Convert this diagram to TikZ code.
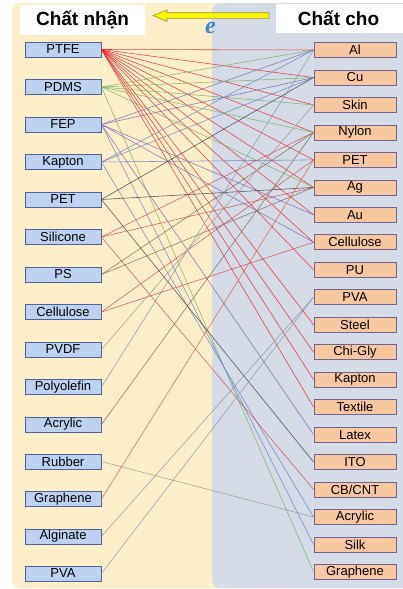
\documentclass[tikz,border=0pt]{standalone}
\usepackage{fontspec}
\setmainfont{Liberation Sans}
\newfontfamily\eserif{Liberation Serif}

\definecolor{panelA}{RGB}{252,238,201}
\definecolor{panelD}{RGB}{213,219,231}
\definecolor{boxA}{RGB}{189,210,240}
\definecolor{boxD}{RGB}{247,199,160}
\definecolor{edgeA}{RGB}{78,98,158}
\definecolor{edgeD}{RGB}{112,100,150}
\definecolor{cRed}{RGB}{232,32,36}
\definecolor{cRose}{RGB}{205,70,70}
\definecolor{cGreen}{RGB}{110,178,92}
\definecolor{cPurple}{RGB}{118,98,178}
\definecolor{cBlue}{RGB}{98,128,192}
\definecolor{cDark}{RGB}{55,58,60}
\definecolor{cOlive}{RGB}{112,104,72}
\definecolor{cGray}{RGB}{150,150,140}
\definecolor{cSlate}{RGB}{130,146,172}
\definecolor{cOrange}{RGB}{222,88,58}
\definecolor{arrowY}{RGB}{250,248,0}
\definecolor{eBlue}{RGB}{58,130,220}

\tikzset{
  lbox/.style={draw=edgeA, fill=boxA, line width=0.8pt, minimum width=76pt, minimum height=15pt, inner sep=0pt, font=\fontsize{13}{14}\selectfont},
  dbox/.style={draw=edgeD, fill=boxD, line width=0.8pt, minimum width=82pt, minimum height=15pt, inner sep=0pt, font=\fontsize{13}{14}\selectfont},
  hdr/.style={inner sep=0pt, font=\fontsize{19}{21}\selectfont\bfseries},
  wire/.style={line width=0.55pt, opacity=0.85}
}

\begin{document}
\begin{tikzpicture}[x=1pt,y=1pt,yscale=-1]
\useasboundingbox (0,0) rectangle (403,589);

%Shape: Panels
\fill [panelA, rounded corners=8] (12,3) rectangle (240,588) ;
\fill [panelD, rounded corners=8] (212,3) rectangle (420,588) ;
%Shape: Header boxes
\fill [white] (20,5) rectangle (145,35) ;
\fill [white] (276,4) rectangle (410,33) ;
%Shape: Arrow
\draw [draw={rgb,255:red,150;green,150;blue,70}, fill=arrowY, line width=0.6pt] (153,15.5) -- (167,10) -- (167,12.7) -- (269,12.7) -- (269,18.3) -- (167,18.3) -- (167,21.5) -- cycle ;

% Text Node
\node [hdr] (hAcc) at (82.5,20) {Chất nhận};
% Text Node
\node [hdr] (hDon) at (338.5,18.5) {Chất cho};
% Text Node
\node [inner sep=0pt, text=eBlue, font=\fontsize{24}{24}\eserif\bfseries\itshape] (eLbl) at (210.5,28) {e};

% Acceptor boxes
\node [lbox] (aPTFE) at (63,49.5) {PTFE};
\node [lbox] (aPDMS) at (63,87) {PDMS};
\node [lbox] (aFEP) at (63,124.5) {FEP};
\node [lbox] (aKapton) at (63,162) {Kapton};
\node [lbox] (aPET) at (63,199.5) {PET};
\node [lbox] (aSilicone) at (63,237) {Silicone};
\node [lbox] (aPS) at (63,274.5) {PS};
\node [lbox] (aCellulose) at (63,312) {Cellulose};
\node [lbox] (aPVDF) at (63,349.5) {PVDF};
\node [lbox] (aPolyolefin) at (63,387) {Polyolefin};
\node [lbox] (aAcrylic) at (63,424.5) {Acrylic};
\node [lbox] (aRubber) at (63,461.5) {Rubber};
\node [lbox] (aGraphene) at (63,499) {Graphene};
\node [lbox] (aAlginate) at (63,536.5) {Alginate};
\node [lbox] (aPVA) at (63,573.5) {PVA};

% Donor boxes
\node [dbox] (dAl) at (355,50) {Al};
\node [dbox] (dCu) at (355,77.5) {Cu};
\node [dbox] (dSkin) at (355,104.9) {Skin};
\node [dbox] (dNylon) at (355,132.4) {Nylon};
\node [dbox] (dPET) at (355,159.9) {PET};
\node [dbox] (dAg) at (355,187.4) {Ag};
\node [dbox] (dAu) at (355,214.8) {Au};
\node [dbox] (dCellulose) at (355,242.3) {Cellulose};
\node [dbox] (dPU) at (355,269.8) {PU};
\node [dbox] (dPVA) at (355,297.2) {PVA};
\node [dbox] (dSteel) at (355,324.7) {Steel};
\node [dbox] (dChiGly) at (355,352.2) {Chi-Gly};
\node [dbox] (dKapton) at (355,379.6) {Kapton};
\node [dbox] (dTextile) at (355,407.1) {Textile};
\node [dbox] (dLatex) at (355,434.6) {Latex};
\node [dbox] (dITO) at (355,462.1) {ITO};
\node [dbox] (dCBCNT) at (355,489.5) {CB/CNT};
\node [dbox] (dAcrylic) at (355,517) {Acrylic};
\node [dbox] (dSilk) at (355,544.5) {Silk};
\node [dbox] (dGraphene) at (355,571.9) {Graphene};

%Straight Lines: PTFE
\draw [wire, cRed] (aPTFE.east) -- (dAl.west) ;
\draw [wire, cRed] (aPTFE.east) -- (dCu.west) ;
\draw [wire, cRed] (aPTFE.east) -- (dSkin.west) ;
\draw [wire, cRed] (aPTFE.east) -- (dNylon.west) ;
\draw [wire, cRed] (aPTFE.east) -- (dPET.west) ;
\draw [wire, cRed] (aPTFE.east) -- (dAg.west) ;
\draw [wire, cRed] (aPTFE.east) -- (dAu.west) ;
\draw [wire, cRed] (aPTFE.east) -- (dCellulose.west) ;
\draw [wire, cRed] (aPTFE.east) -- (dPU.west) ;
\draw [wire, cRed] (aPTFE.east) -- (dSteel.west) ;
\draw [wire, cRed] (aPTFE.east) -- (dChiGly.west) ;
\draw [wire, cRed] (aPTFE.east) -- (dKapton.west) ;
\draw [wire, cRed] (aPTFE.east) -- (dTextile.west) ;
%Straight Lines: PDMS
\draw [wire, cGreen] (aPDMS.east) -- (dAl.west) ;
\draw [wire, cGreen] (aPDMS.east) -- (dCu.west) ;
\draw [wire, cGreen] (aPDMS.east) -- (dSkin.west) ;
\draw [wire, cGreen] (aPDMS.east) -- (dNylon.west) ;
\draw [wire, cGreen] (aPDMS.east) -- (dAg.west) ;
\draw [wire, cGreen] (aPDMS.east) -- (dGraphene.west) ;
%Straight Lines: FEP
\draw [wire, cPurple] (aFEP.east) -- (dAl.west) ;
\draw [wire, cPurple] (aFEP.east) -- (dCu.west) ;
\draw [wire, cPurple] (aFEP.east) -- (dAu.west) ;
\draw [wire, cPurple] (aFEP.east) -- (dCellulose.west) ;
\draw [wire, cPurple] (aFEP.east) -- (dLatex.west) ;
\draw [wire, cBlue] (aFEP.east) -- (dSilk.west) ;
%Straight Lines: Kapton
\draw [wire, cBlue] (aKapton.east) -- (dAl.west) ;
\draw [wire, cBlue] (aKapton.east) -- (dCu.west) ;
\draw [wire, cBlue] (aKapton.east) -- (dPET.west) ;
\draw [wire, cBlue] (aKapton.east) -- (dAcrylic.west) ;
%Straight Lines: PET
\draw [wire, cDark] (aPET.east) -- (dCu.west) ;
\draw [wire, cDark] (aPET.east) -- (dAg.west) ;
\draw [wire, cDark] (aPET.east) -- (dITO.west) ;
%Straight Lines: Silicone
\draw [wire, cRose] (aSilicone.east) -- (dNylon.west) ;
\draw [wire, cRose] (aSilicone.east) -- (dAg.west) ;
\draw [wire, cRose] (aSilicone.east) -- (dCBCNT.west) ;
%Straight Lines: PS
\draw [wire, cOlive] (aPS.east) -- (dNylon.west) ;
\draw [wire, cOlive] (aPS.east) -- (dAg.west) ;
%Straight Lines: Cellulose
\draw [wire, cRose] (aCellulose.east) -- (dPET.west) ;
\draw [wire, cRose] (aCellulose.east) -- (dCellulose.west) ;
%Straight Lines: lower acceptors
\draw [wire, cGray] (aPVDF.east) -- (dSkin.west) ;
\draw [wire, cSlate] (aPolyolefin.east) -- (dAl.west) ;
\draw [wire, cOlive] (aAcrylic.east) -- (dNylon.west) ;
\draw [wire, cGray] (aRubber.east) -- (dAcrylic.west) ;
\draw [wire, cOrange] (aGraphene.east) -- (dPET.west) ;
\draw [wire, cSlate] (aAlginate.east) -- (dPVA.west) ;
\draw [wire, cSlate] (aPVA.east) -- (dPVA.west) ;

\end{tikzpicture}
\end{document}
